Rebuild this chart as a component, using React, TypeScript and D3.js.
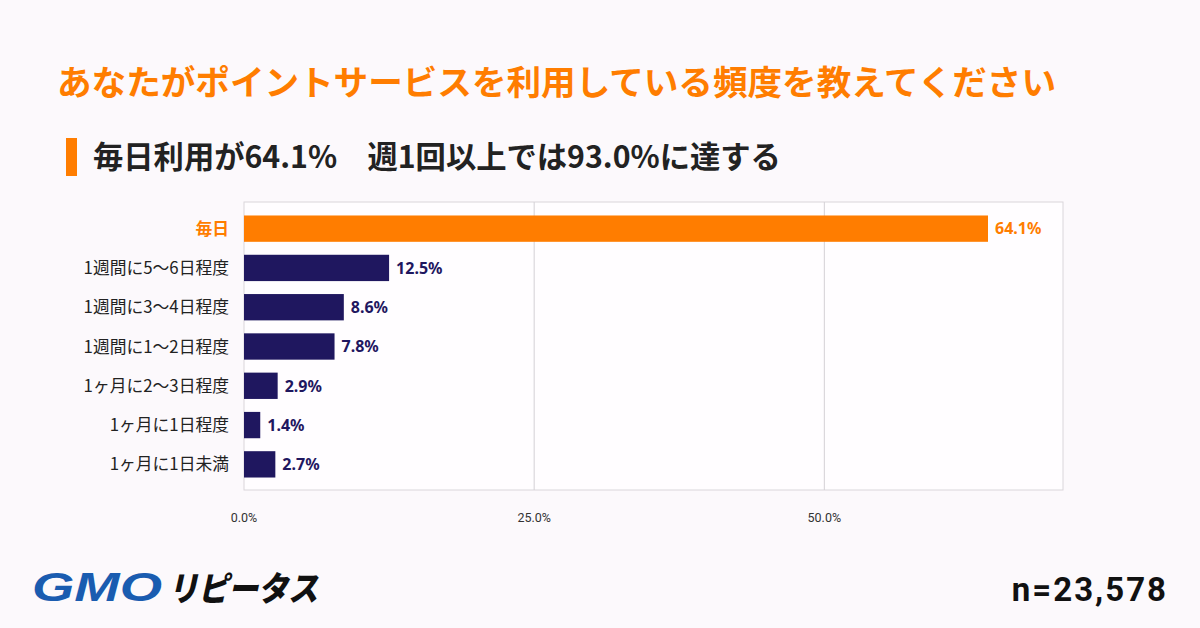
import React, { useEffect, useRef } from "react";
import * as d3 from "d3";

// survey answers (%), top to bottom
const categories = [
  "毎日",
  "1週間に5〜6日程度",
  "1週間に3〜4日程度",
  "1週間に1〜2日程度",
  "1ヶ月に2〜3日程度",
  "1ヶ月に1日程度",
  "1ヶ月に1日未満",
];
const values = [64.1, 12.5, 8.6, 7.8, 2.9, 1.4, 2.7];
const ticks = [0, 25, 50];

const title = "あなたがポイントサービスを利用している頻度を教えてください";
const subtitle = "毎日利用が64.1%　週1回以上では93.0%に達する";
const sampleSize = "n=23,578";

const ORANGE = "#ff7d00";
const NAVY = "#1f175f";
const FONT = "'Noto Sans CJK JP', 'Noto Sans', sans-serif";

const App = () => {
  const ref = useRef<SVGSVGElement>(null);

  useEffect(() => {
    const svg = d3.select(ref.current);
    svg.selectAll("*").remove();

    const plot = { left: 244, right: 1063, top: 202, bottom: 490 };

    svg.append("rect").attr("width", 1200).attr("height", 628).attr("fill", "#fcf9fc");

    // heading
    svg
      .append("text")
      .attr("x", 57)
      .attr("y", 95)
      .attr("font-family", FONT)
      .attr("font-weight", 700)
      .attr("font-size", 34.6)
      .attr("fill", ORANGE)
      .text(title);

    svg
      .append("rect")
      .attr("x", 66)
      .attr("y", 138)
      .attr("width", 11)
      .attr("height", 38)
      .attr("fill", ORANGE);

    svg
      .append("text")
      .attr("x", 93)
      .attr("y", 168)
      .attr("font-family", FONT)
      .attr("font-weight", 700)
      .attr("font-size", 30.3)
      .attr("fill", "#222")
      .text(subtitle);

    const x = d3
      .scaleLinear()
      .domain([0, 64.1])
      .range([plot.left, 988]);

    const y = d3
      .scaleBand<string>()
      .domain(categories)
      .range([209, 484])
      .paddingInner(0.33)
      .paddingOuter(0.165);

    // plot frame
    svg
      .append("rect")
      .attr("x", plot.left)
      .attr("y", plot.top)
      .attr("width", plot.right - plot.left)
      .attr("height", plot.bottom - plot.top)
      .attr("fill", "#fffdff")
      .attr("stroke", "#d9d6da")
      .attr("stroke-width", 1);

    // gridlines
    svg
      .append("g")
      .selectAll("line")
      .data(ticks.filter((t) => t > 0))
      .enter()
      .append("line")
      .attr("x1", (d) => x(d))
      .attr("x2", (d) => x(d))
      .attr("y1", plot.top)
      .attr("y2", plot.bottom)
      .attr("stroke", "#d4d1d5")
      .attr("stroke-width", 1);

    // x tick labels
    svg
      .append("g")
      .selectAll("text")
      .data(ticks)
      .enter()
      .append("text")
      .attr("x", (d) => x(d))
      .attr("y", 522)
      .attr("text-anchor", "middle")
      .attr("font-family", "'Roboto', sans-serif")
      .attr("font-size", 12.5)
      .attr("fill", "#333")
      .text((d) => d3.format(".1f")(d) + "%");

    const rows = categories.map((c, i) => ({ c, v: values[i], i }));

    // bars
    svg
      .append("g")
      .selectAll("rect")
      .data(rows)
      .enter()
      .append("rect")
      .attr("x", x(0))
      .attr("y", (d) => y(d.c)!)
      .attr("width", (d) => x(d.v) - x(0))
      .attr("height", y.bandwidth())
      .attr("fill", (d) => (d.i === 0 ? ORANGE : NAVY));

    // category labels
    svg
      .append("g")
      .selectAll("text")
      .data(rows)
      .enter()
      .append("text")
      .attr("x", 229)
      .attr("y", (d) => y(d.c)! + y.bandwidth() / 2)
      .attr("dy", "0.36em")
      .attr("text-anchor", "end")
      .attr("font-family", FONT)
      .attr("font-weight", (d) => (d.i === 0 ? 700 : 400))
      .attr("font-size", 16.8)
      .attr("fill", (d) => (d.i === 0 ? ORANGE : "#222"))
      .text((d) => d.c);

    // value labels
    svg
      .append("g")
      .selectAll("text")
      .data(rows)
      .enter()
      .append("text")
      .attr("x", (d) => x(d.v) + 7)
      .attr("y", (d) => y(d.c)! + y.bandwidth() / 2)
      .attr("dy", "0.36em")
      .attr("font-family", "'Noto Sans', sans-serif")
      .attr("font-weight", 700)
      .attr("font-size", 16)
      .attr("fill", (d) => (d.i === 0 ? ORANGE : NAVY))
      .text((d) => d3.format(".1f")(d.v) + "%");

    // logo
    svg
      .append("text")
      .attr("x", 32)
      .attr("y", 601)
      .attr("font-family", "'Liberation Sans', sans-serif")
      .attr("font-weight", 700)
      .attr("font-style", "italic")
      .attr("font-size", 40)
      .attr("textLength", 130)
      .attr("lengthAdjust", "spacingAndGlyphs")
      .attr("fill", "#1a5cb0")
      .text("GMO");
    svg
      .append("text")
      .attr("x", 168)
      .attr("y", 601)
      .attr("font-family", FONT)
      .attr("font-weight", 900)
      .attr("font-style", "italic")
      .attr("font-size", 34)
      .attr("textLength", 150)
      .attr("lengthAdjust", "spacingAndGlyphs")
      .attr("fill", "#111")
      .text("リピータス");

    svg
      .append("text")
      .attr("x", 1168)
      .attr("y", 601)
      .attr("text-anchor", "end")
      .attr("font-family", "'Roboto', sans-serif")
      .attr("font-weight", 700)
      .attr("font-size", 33)
      .attr("letter-spacing", 2)
      .attr("fill", "#111")
      .text(sampleSize);
  }, []);

  return (
    <svg
      ref={ref}
      width={1200}
      height={628}
      style={{ position: "absolute", left: 0, top: 0, display: "block" }}
    />
  );
};

export default App;
